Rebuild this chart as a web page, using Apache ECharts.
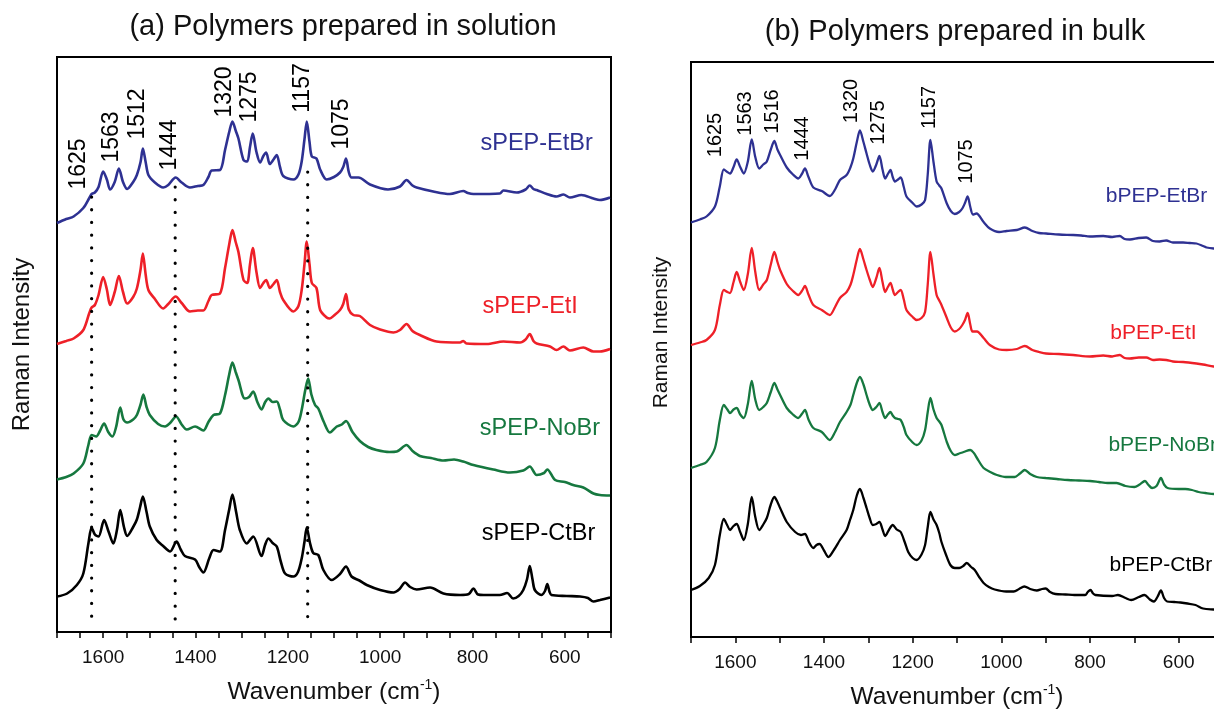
<!DOCTYPE html>
<html><head><meta charset="utf-8">
<script src="https://cdn.jsdelivr.net/npm/echarts@6/dist/echarts.min.js"></script>
<style>html,body{margin:0;padding:0;background:#fff}#c{width:1214px;height:711px}</style>
</head><body><div id="c"></div>
<script>
const FONT = '"Liberation Sans", Arial, Helvetica, sans-serif';

// ---------- DATA: [wavenumber (cm-1), Raman intensity (a.u., offset)] ----------
// (a) solution
const sEtBr = [[1700,81.8],[1680,82.6],[1664,83.1],[1643,84.8],[1630,86.8],[1625,87.6],[1618,87.9],[1610,89.0],[1600,92.1],[1592,90.5],[1585,88.5],[1575,90.0],[1566,92.7],[1557,90.0],[1548,88.6],[1535,90.0],[1527,91.4],[1519,94.0],[1514,96.7],[1508,94.0],[1502,91.4],[1488,89.9],[1470,88.9],[1459,89.4],[1443,90.9],[1430,89.9],[1412,88.9],[1395,89.2],[1383,89.4],[1372,91.0],[1365,92.3],[1347,92.4],[1336,96.4],[1327,100.0],[1320,102.1],[1313,100.3],[1307,98.7],[1296,94.4],[1288,94.1],[1282,97.0],[1276,99.7],[1268,96.0],[1260,93.9],[1253,95.2],[1247,95.9],[1239,93.6],[1231,94.5],[1224,95.4],[1217,93.0],[1210,91.2],[1188,90.5],[1177,91.5],[1170,94.1],[1164,98.5],[1159,102.1],[1153,98.0],[1148,95.1],[1138,94.7],[1130,92.5],[1116,90.5],[1100,91.0],[1087,91.9],[1080,93.0],[1074,94.7],[1068,92.0],[1062,90.9],[1047,90.9],[1022,89.5],[983,88.5],[957,89.1],[943,90.4],[930,89.3],[921,88.9],[885,88.1],[849,87.6],[820,88.2],[810,87.8],[798,87.6],[741,87.7],[733,88.3],[704,87.9],[685,88.5],[676,89.3],[668,88.6],[661,88.4],[639,87.6],[618,87.1],[603,87.5],[589,86.9],[564,87.4],[538,86.7],[524,86.4],[502,86.9]];
const sEtI = [[1700,57.6],[1680,58.2],[1664,58.7],[1643,60.4],[1630,63.8],[1625,64.9],[1618,65.4],[1610,67.4],[1600,71.0],[1592,68.5],[1585,65.4],[1575,68.0],[1566,71.2],[1557,68.0],[1548,65.7],[1535,67.0],[1527,68.7],[1519,72.5],[1514,75.7],[1508,71.5],[1502,68.4],[1488,66.6],[1470,64.7],[1459,65.6],[1443,67.1],[1430,65.8],[1412,64.1],[1395,64.3],[1383,64.3],[1372,66.2],[1365,67.4],[1347,67.7],[1336,72.8],[1327,77.5],[1320,80.4],[1313,78.0],[1307,76.0],[1296,70.4],[1288,69.8],[1282,73.5],[1276,76.8],[1268,72.0],[1260,68.8],[1253,69.8],[1247,70.4],[1239,68.8],[1231,69.6],[1224,70.4],[1217,68.0],[1210,66.4],[1188,64.1],[1177,65.2],[1170,68.4],[1164,73.5],[1159,78.1],[1153,73.5],[1148,69.8],[1138,68.8],[1130,64.4],[1116,62.9],[1109,62.7],[1100,63.3],[1087,64.4],[1080,65.6],[1074,67.6],[1068,64.5],[1058,63.4],[1044,63.2],[1022,61.4],[1000,60.5],[971,59.9],[957,60.4],[943,61.6],[930,60.2],[914,59.4],[878,58.1],[827,57.9],[820,58.2],[813,57.7],[769,57.6],[733,58.1],[697,57.9],[685,58.5],[676,59.6],[668,58.2],[661,57.7],[632,57.1],[618,56.4],[603,57.1],[589,56.3],[560,56.9],[538,56.1],[524,56.1],[502,56.6]];
const sNoBr = [[1700,30.5],[1680,31.0],[1664,31.7],[1643,33.7],[1632,37.4],[1625,39.4],[1615,39.1],[1607,40.2],[1598,41.7],[1589,40.0],[1580,39.1],[1572,41.0],[1563,44.9],[1556,42.5],[1548,41.9],[1535,42.5],[1527,43.4],[1519,45.5],[1513,47.5],[1506,45.0],[1499,43.4],[1481,41.6],[1466,41.1],[1455,41.8],[1442,43.1],[1430,41.5],[1419,40.5],[1401,41.1],[1383,40.3],[1372,42.0],[1361,43.4],[1347,43.7],[1336,47.4],[1327,51.5],[1320,53.9],[1313,52.0],[1307,50.4],[1293,46.7],[1284,47.0],[1275,48.1],[1266,46.0],[1257,44.5],[1249,46.0],[1242,46.7],[1233,46.0],[1224,46.1],[1217,44.5],[1210,42.4],[1188,41.1],[1177,42.0],[1170,44.4],[1162,48.5],[1156,50.7],[1149,47.5],[1141,45.4],[1134,44.7],[1122,42.0],[1109,39.9],[1094,41.1],[1083,41.5],[1074,42.2],[1060,40.0],[1044,38.2],[1026,37.0],[1008,36.4],[980,36.0],[964,36.1],[943,37.4],[930,36.2],[914,35.2],[890,34.8],[863,34.3],[840,34.5],[820,34.1],[798,33.4],[755,32.5],[719,31.9],[690,32.3],[676,33.1],[661,31.4],[645,31.8],[638,32.5],[621,30.4],[600,30.0],[582,29.4],[560,28.9],[538,27.7],[524,27.4],[502,27.3]];
const sCtBr = [[1700,7.1],[1678,7.7],[1657,9.4],[1643,11.7],[1632,17.7],[1625,20.9],[1618,19.5],[1610,19.1],[1598,22.4],[1588,20.0],[1578,17.7],[1570,20.5],[1563,24.4],[1555,21.0],[1548,19.2],[1535,21.0],[1527,22.5],[1520,25.0],[1514,27.1],[1506,24.0],[1499,21.1],[1484,18.4],[1470,17.2],[1455,16.1],[1441,18.1],[1432,16.5],[1423,15.2],[1401,14.5],[1392,13.0],[1383,11.9],[1370,14.8],[1361,16.4],[1347,16.1],[1336,20.4],[1327,24.5],[1320,27.5],[1312,24.0],[1304,20.4],[1289,17.7],[1275,19.1],[1257,15.2],[1249,17.5],[1242,18.7],[1233,17.8],[1224,17.1],[1215,14.0],[1206,11.7],[1188,11.1],[1178,12.0],[1170,14.7],[1164,18.0],[1159,20.9],[1152,17.8],[1145,15.8],[1134,15.4],[1123,12.4],[1105,10.4],[1087,11.6],[1074,13.1],[1062,11.1],[1045,10.3],[1029,9.4],[1000,8.4],[971,7.9],[958,8.6],[946,9.9],[935,9.0],[921,8.5],[892,8.9],[863,7.7],[827,7.4],[808,7.6],[798,8.7],[788,7.5],[776,7.4],[741,7.4],[725,7.8],[712,6.7],[700,7.2],[690,8.4],[682,10.5],[676,13.2],[670,10.5],[665,8.4],[651,7.4],[643,8.2],[638,9.6],[633,8.0],[629,7.4],[596,7.2],[567,7.1],[550,6.8],[538,6.1],[524,6.4],[502,6.9]];

// (b) bulk
const bEtBr = [[1700,82.9],[1680,83.5],[1665,84.1],[1646,86.1],[1635,90.1],[1626,93.5],[1618,93.0],[1612,92.7],[1604,94.0],[1597,95.5],[1589,94.0],[1581,92.7],[1572,95.0],[1563,99.5],[1555,96.0],[1546,93.7],[1537,94.5],[1529,95.1],[1520,97.5],[1512,99.2],[1505,97.5],[1499,96.4],[1484,93.9],[1470,92.5],[1458,91.7],[1450,92.6],[1443,93.7],[1435,92.0],[1424,89.9],[1405,89.2],[1387,88.2],[1375,89.5],[1364,91.4],[1349,92.4],[1340,94.0],[1334,95.7],[1326,99.0],[1319,101.3],[1311,99.0],[1304,96.7],[1297,94.5],[1290,93.1],[1282,94.5],[1275,96.2],[1268,93.5],[1262,91.7],[1256,92.6],[1250,93.4],[1245,92.0],[1240,91.1],[1233,91.5],[1227,91.9],[1220,90.0],[1214,88.1],[1200,86.8],[1191,86.1],[1180,86.5],[1172,87.4],[1166,92.5],[1160,99.4],[1153,95.0],[1146,91.1],[1140,90.3],[1135,89.7],[1123,86.7],[1114,85.2],[1105,84.6],[1095,85.0],[1088,85.7],[1082,86.8],[1076,88.1],[1070,86.0],[1064,84.5],[1056,84.7],[1040,83.0],[1026,81.7],[1005,81.0],[988,81.2],[965,81.4],[947,81.9],[930,81.2],[915,80.8],[899,80.7],[870,80.5],[838,80.4],[820,80.3],[800,80.1],[770,80.2],[750,80.0],[733,80.2],[722,79.6],[710,79.5],[690,79.8],[673,79.9],[658,79.2],[643,79.1],[628,79.3],[613,78.9],[590,78.9],[575,78.8],[560,78.7],[545,78.2],[537,77.9],[521,77.7],[500,77.6]];
const bEtI = [[1700,58.4],[1680,58.9],[1665,59.4],[1646,61.4],[1635,66.4],[1626,69.4],[1618,69.0],[1612,68.8],[1604,71.0],[1597,73.0],[1589,71.0],[1581,69.4],[1572,72.5],[1563,77.8],[1555,73.0],[1546,69.4],[1537,70.5],[1529,71.4],[1520,74.5],[1512,77.0],[1505,75.0],[1499,73.4],[1484,70.6],[1470,69.2],[1458,68.4],[1450,69.2],[1443,70.2],[1435,68.5],[1424,66.4],[1405,65.4],[1387,64.4],[1375,66.0],[1364,67.8],[1349,69.0],[1340,70.5],[1334,72.4],[1326,75.5],[1319,77.6],[1311,75.5],[1304,73.4],[1297,71.5],[1290,70.0],[1282,71.8],[1275,73.8],[1268,71.0],[1262,69.0],[1256,70.0],[1250,70.8],[1245,69.5],[1240,68.4],[1233,69.0],[1227,69.4],[1220,67.5],[1214,65.4],[1200,64.0],[1191,63.4],[1180,63.8],[1172,65.0],[1166,70.5],[1160,77.0],[1153,72.5],[1146,68.4],[1140,67.3],[1135,66.4],[1123,63.8],[1114,61.9],[1105,61.1],[1095,61.6],[1088,62.4],[1082,63.4],[1076,64.8],[1070,62.5],[1065,61.1],[1055,61.1],[1040,59.8],[1026,58.4],[1005,57.5],[988,57.4],[965,57.6],[947,58.2],[930,57.4],[915,57.0],[899,56.7],[870,56.6],[838,56.4],[800,56.1],[770,56.3],[750,56.1],[733,56.4],[722,55.8],[710,55.7],[690,55.9],[673,55.9],[658,55.4],[643,55.5],[628,55.4],[613,55.1],[590,55.0],[560,54.7],[545,54.5],[521,54.1],[500,53.9]];
const bNoBr = [[1700,33.8],[1680,34.4],[1665,35.0],[1646,37.8],[1635,43.4],[1626,46.4],[1618,45.5],[1612,44.8],[1604,45.5],[1597,45.8],[1589,44.5],[1581,43.8],[1572,46.5],[1563,51.2],[1555,47.5],[1546,45.4],[1537,46.0],[1529,46.8],[1520,49.0],[1512,50.8],[1505,49.5],[1499,48.4],[1484,45.8],[1470,44.5],[1458,43.8],[1450,44.6],[1443,45.4],[1435,43.5],[1424,41.8],[1405,41.0],[1387,39.4],[1375,41.0],[1364,43.0],[1349,45.0],[1340,46.5],[1334,48.4],[1326,50.8],[1319,52.0],[1311,50.5],[1304,48.4],[1297,46.5],[1290,45.4],[1282,46.0],[1275,46.8],[1268,45.0],[1262,43.8],[1256,44.5],[1250,45.0],[1245,44.3],[1240,43.8],[1233,43.6],[1227,43.4],[1220,42.0],[1214,40.4],[1200,38.9],[1191,38.4],[1180,39.3],[1172,41.4],[1166,45.0],[1160,47.8],[1153,45.5],[1146,43.8],[1140,43.1],[1135,42.4],[1123,39.0],[1114,37.2],[1105,36.4],[1095,36.7],[1085,37.0],[1070,37.4],[1062,36.8],[1055,35.8],[1040,33.8],[1025,33.0],[1010,32.4],[990,32.0],[970,32.0],[958,32.7],[947,33.4],[935,32.6],[920,32.0],[900,31.8],[875,31.6],[850,31.4],[825,31.3],[800,31.2],[780,31.0],[760,30.8],[740,30.8],[720,30.2],[700,30.0],[688,30.5],[676,31.2],[668,30.4],[660,29.8],[650,30.2],[640,31.8],[633,30.5],[625,29.8],[600,29.6],[585,29.6],[570,29.4],[555,29.0],[540,28.8],[520,28.6],[500,28.6]];
const bCtBr = [[1700,9.4],[1680,10.2],[1660,11.8],[1646,14.4],[1635,20.4],[1626,23.6],[1618,22.3],[1612,21.4],[1604,22.2],[1597,22.6],[1589,21.0],[1581,19.4],[1572,22.5],[1563,28.0],[1555,24.0],[1546,21.4],[1537,22.5],[1529,23.8],[1520,26.5],[1512,28.0],[1505,27.0],[1499,25.8],[1484,23.0],[1465,21.0],[1452,20.4],[1443,20.6],[1434,19.0],[1424,17.8],[1417,18.4],[1410,18.6],[1400,17.3],[1390,16.0],[1377,17.5],[1364,19.4],[1349,21.4],[1341,23.5],[1334,25.4],[1326,28.3],[1319,29.6],[1311,27.8],[1304,25.8],[1297,23.8],[1290,22.4],[1282,22.6],[1275,23.0],[1268,21.5],[1262,20.2],[1253,21.5],[1245,22.4],[1236,21.5],[1227,21.0],[1218,19.0],[1210,17.0],[1200,15.8],[1191,15.4],[1180,16.5],[1172,18.4],[1166,22.0],[1160,25.0],[1153,23.5],[1146,22.4],[1140,20.8],[1135,19.0],[1125,16.5],[1115,14.4],[1105,13.8],[1095,13.8],[1086,14.2],[1078,14.8],[1068,14.0],[1060,13.4],[1050,12.0],[1040,10.8],[1028,10.0],[1015,9.5],[989,9.1],[972,9.1],[960,9.6],[948,10.1],[935,9.6],[920,9.3],[908,9.6],[900,9.7],[890,9.0],[878,8.6],[855,8.5],[835,8.4],[811,8.4],[805,9.0],[799,9.4],[793,8.7],[788,8.4],[750,8.2],[737,8.4],[720,7.8],[707,7.4],[690,8.0],[677,8.4],[665,7.5],[656,7.1],[648,8.0],[640,9.3],[633,7.8],[626,7.1],[610,7.0],[596,6.9],[580,6.7],[562,6.4],[545,5.7],[521,5.5],[500,5.4]];

// Names, colours
const seriesNamesA = ['sPEP-EtBr', 'sPEP-EtI', 'sPEP-NoBr', 'sPEP-CtBr'];
const seriesNamesB = ['bPEP-EtBr', 'bPEP-EtI', 'bPEP-NoBr', 'bPEP-CtBr'];
const colors = ['#2e3192', '#ee2028', '#16783f', '#000000'];

// Peak annotation texts and their anchor (label centre) in data units [wavenumber, intensity]
const peakTextA = ['1625', '1563', '1512', '1444', '1320', '1275', '1157', '1075'];
const peakPosA = [[1654, 93.6], [1582, 99.0], [1525, 103.6], [1455, 97.4], [1336, 108.0], [1282, 107.0], [1167, 108.8], [1083, 101.6]];
const peakTextB = ['1625', '1563', '1516', '1444', '1320', '1275', '1157', '1075'];
const peakPosB = [[1645, 100.4], [1576, 104.7], [1516, 105.1], [1449, 99.7], [1337, 107.2], [1278, 102.9], [1163, 105.9], [1079, 95.1]];
// Series name label anchors [wavenumber, intensity]
const nameLabelPosA = [[661, 97.7], [675, 65.1], [654, 40.7], [657, 19.7]];
const nameLabelPosB = [[650, 88.1], [657, 60.7], [636, 38.4], [640, 14.4]];
// Dotted guide lines in (a): wavenumber and [top, bottom] intensity
const guideWn = [1625, 1444, 1157];
const guideSpan = [[87.0, 1.4], [89.0, 0.4], [92.0, 1.8]];

const xTickLabels = [1600, 1400, 1200, 1000, 800, 600];

// ---------- CHART ----------
const chart = echarts.init(document.getElementById('c'), null, {renderer: 'canvas'});
const txt = '#111111';

function xAx(gi, step) {
  return {
    gridIndex: gi, type: 'value', min: 500, max: 1700, inverse: true, interval: step,
    axisLine: {show: true, lineStyle: {color: '#000', width: 2}},
    axisTick: {show: true, inside: false, length: 6, lineStyle: {color: '#000', width: 1.5}},
    axisLabel: {formatter: v => xTickLabels.indexOf(v) >= 0 ? String(v) : '', fontSize: 19, color: txt, margin: 16, fontFamily: FONT},
    splitLine: {show: false},
    name: 'Wavenumber (cm{sup|-1})', nameLocation: 'middle', nameGap: 46,
    nameTextStyle: {fontSize: 24.5, color: txt, fontFamily: FONT, lineHeight: 28,
      rich: {sup: {fontSize: 14, fontFamily: FONT, color: txt, verticalAlign: 'top', lineHeight: 14}}}
  };
}
function yAx(gi, gap, fs, pad) {
  return {
    gridIndex: gi, type: 'value', min: 0, max: 115,
    axisLine: {show: true, lineStyle: {color: '#000', width: 2}},
    axisTick: {show: false}, axisLabel: {show: false}, splitLine: {show: false},
    name: 'Raman Intensity', nameLocation: 'middle', nameGap: gap, nameRotate: 90,
    nameTextStyle: {fontSize: fs, color: txt, fontFamily: FONT, padding: pad}
  };
}

const series = [];
[sEtBr, sEtI, sNoBr, sCtBr].forEach((d, i) => series.push({
  type: 'line', xAxisIndex: 0, yAxisIndex: 0, data: d, showSymbol: false, smooth: 0.3,
  lineStyle: {color: colors[i], width: 2.6}, silent: true, z: 3
}));
[bEtBr, bEtI, bNoBr, bCtBr].forEach((d, i) => series.push({
  type: 'line', xAxisIndex: 1, yAxisIndex: 1, data: d, showSymbol: false, smooth: 0.3,
  lineStyle: {color: colors[i], width: 2.3}, silent: true, z: 3
}));
guideWn.forEach((w, i) => series.push({
  type: 'line', xAxisIndex: 0, yAxisIndex: 0, showSymbol: false, silent: true, z: 4,
  data: [[w, guideSpan[i][0]], [w, guideSpan[i][1]]],
  lineStyle: {color: '#000', width: 3.2, type: [0.1, 12.6], cap: 'round'}
}));
function labelSeries(xi, texts, pos, fs, cols, rot) {
  return {
    type: 'scatter', xAxisIndex: xi, yAxisIndex: xi, symbolSize: 1, silent: true, z: 5,
    itemStyle: {color: 'rgba(255,255,255,0)'},
    data: texts.map((t, i) => ({name: t, value: pos[i],
      label: {color: Array.isArray(cols) ? cols[i] : cols}})),
    label: {show: true, position: [0.5, 0.5], formatter: '{b}', rotate: rot, fontSize: fs,
      fontFamily: FONT, align: 'center', verticalAlign: 'middle',
      textBorderWidth: 0, textShadowBlur: 0, opacity: 1}
  };
}
series.push(labelSeries(0, peakTextA, peakPosA, 23, '#000', 90));
series.push(labelSeries(1, peakTextB, peakPosB, 20, '#000', 90));
series.push(labelSeries(0, seriesNamesA, nameLabelPosA, 23.5, colors, 0));
series.push(labelSeries(1, seriesNamesB, nameLabelPosB, 21, colors, 0));

chart.setOption({
  animation: false,
  backgroundColor: '#fff',
  title: [
    {text: '(a) Polymers prepared in solution', left: 338, top: 7, textAlign: 'center',
      textStyle: {fontSize: 29, fontWeight: 'normal', color: txt, fontFamily: FONT}},
    {text: '(b) Polymers prepared in bulk', left: 950, top: 12, textAlign: 'center',
      textStyle: {fontSize: 29, fontWeight: 'normal', color: txt, fontFamily: FONT}}
  ],
  grid: [
    {left: 57, top: 57, width: 554, height: 575, show: true, borderColor: '#000', borderWidth: 2, outerBoundsMode: 'none', containLabel: false},
    {left: 691, top: 62, width: 532, height: 575, show: true, borderColor: '#000', borderWidth: 2, outerBoundsMode: 'none', containLabel: false}
  ],
  xAxis: [xAx(0, 50), xAx(1, 100)],
  yAxis: [yAx(0, 23, 24, 0), yAx(1, 19, 21, [0, 0, 0, 34])],
  series: series
});
</script></body></html>
